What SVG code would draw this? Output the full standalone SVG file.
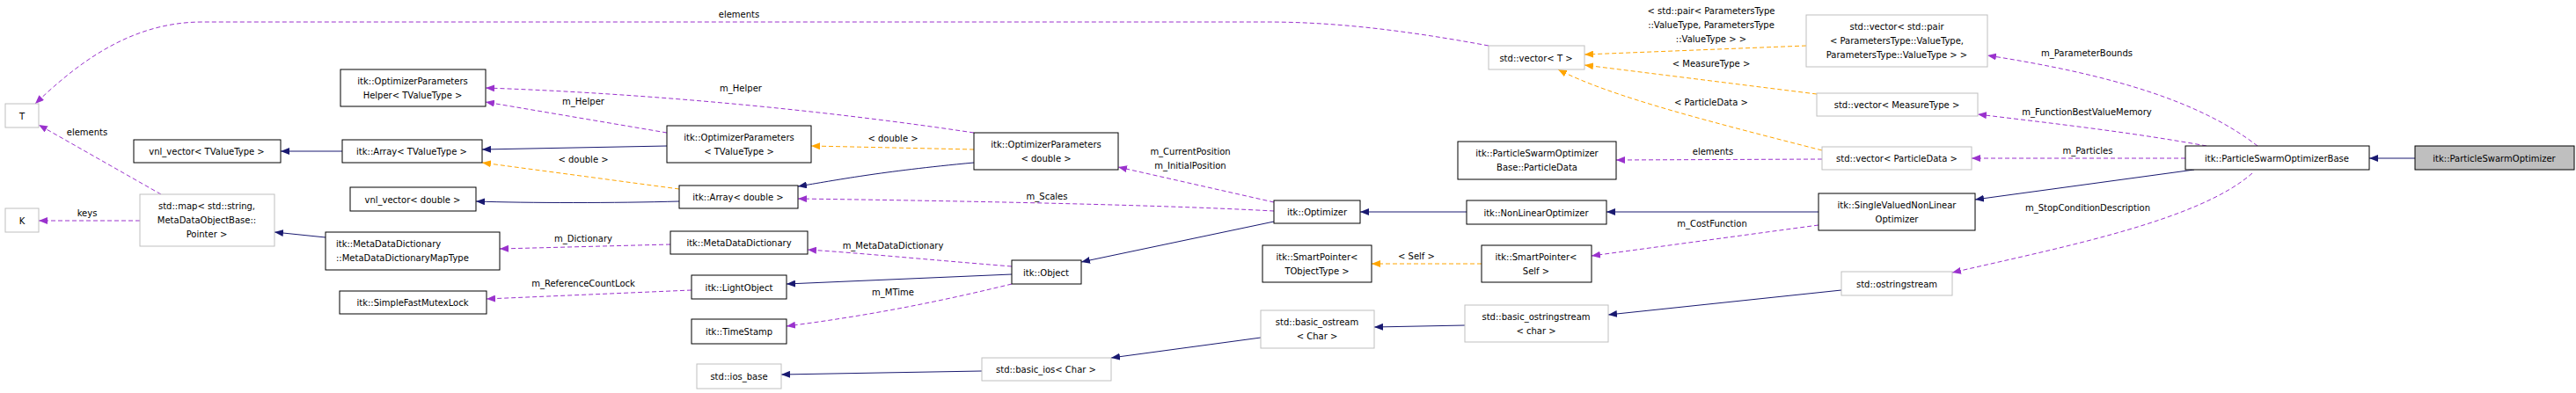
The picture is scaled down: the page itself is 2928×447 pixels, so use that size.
<svg xmlns="http://www.w3.org/2000/svg" width="2928" height="447" viewBox="0 0 2928 447">
<style>
text{font-family:"DejaVu Sans","Liberation Sans",sans-serif;font-size:10px;fill:#000}
.n rect{fill:#fff;stroke:#000;stroke-width:1}
.g rect{fill:#fff;stroke:#bfbfbf;stroke-width:1}
.n text,.g text{text-anchor:middle}
.e path{fill:none;stroke-width:1}
.b{stroke:#191970}
.p{stroke:#9a32cd;stroke-dasharray:5,3}
.o{stroke:#ffa500;stroke-dasharray:5,3}
.lbl text{text-anchor:middle}
</style>
<defs>
<marker id="ab" markerWidth="11" markerHeight="8" refX="10" refY="4" orient="auto" markerUnits="userSpaceOnUse"><path d="M0,0L10,4L0,8z" fill="#191970"/></marker>
<marker id="ap" markerWidth="11" markerHeight="8" refX="10" refY="4" orient="auto" markerUnits="userSpaceOnUse"><path d="M0,0L10,4L0,8z" fill="#9a32cd"/></marker>
<marker id="ao" markerWidth="11" markerHeight="8" refX="10" refY="4" orient="auto" markerUnits="userSpaceOnUse"><path d="M0,0L10,4L0,8z" fill="#ffa500"/></marker>
</defs>
<rect width="2928" height="447" fill="#fff"/>
<g id="connectors" class="e">
<path class="b" marker-end="url(#ab)" d="M2745,180L2693,180"/>
<path class="p" marker-end="url(#ap)" d="M2566,166C2500,115 2400,85 2259,63"/>
<path class="p" marker-end="url(#ap)" d="M2508,166C2420,150 2330,140 2248,130"/>
<path class="p" marker-end="url(#ap)" d="M2484,180L2241,180"/>
<path class="b" marker-end="url(#ab)" d="M2494,193L2245,227"/>
<path class="p" marker-end="url(#ap)" d="M2560,197C2500,250 2350,280 2219,310"/>
<path class="o" marker-end="url(#ao)" d="M2053,52L1801,62"/>
<path class="o" marker-end="url(#ao)" d="M2065,107L1801,74"/>
<path class="o" marker-end="url(#ao)" d="M2071,171C1950,140 1830,110 1771,79"/>
<path class="p" marker-end="url(#ap)" d="M2071,181L1837,182"/>
<path class="b" marker-end="url(#ab)" d="M2067,241L1826,241"/>
<path class="p" marker-end="url(#ap)" d="M2067,256L1809,291"/>
<path class="o" marker-end="url(#ao)" d="M1684,300L1559,300"/>
<path class="b" marker-end="url(#ab)" d="M2093,330L1828,358"/>
<path class="b" marker-end="url(#ab)" d="M1665,370L1562,372"/>
<path class="b" marker-end="url(#ab)" d="M1433,384L1263,407"/>
<path class="b" marker-end="url(#ab)" d="M1116,422L888,426"/>
<path class="b" marker-end="url(#ab)" d="M1667,241L1546,241"/>
<path class="p" marker-end="url(#ap)" d="M1448,230L1271,190"/>
<path class="p" marker-end="url(#ap)" d="M1448,240C1300,232 1050,228 907,226"/>
<path class="b" marker-end="url(#ab)" d="M1448,252L1229,298"/>
<path class="p" marker-end="url(#ap)" d="M1692,52C1600,35 1520,25 1440,25L230,25C150,25 90,70 40,118"/>
<path class="o" marker-end="url(#ao)" d="M1107,170L922,166"/>
<path class="p" marker-end="url(#ap)" d="M1107,151C900,120 700,105 552,100"/>
<path class="b" marker-end="url(#ab)" d="M1107,185C1000,195 950,205 907,212"/>
<path class="p" marker-end="url(#ap)" d="M758,151L552,116"/>
<path class="b" marker-end="url(#ab)" d="M758,166L548,170"/>
<path class="o" marker-end="url(#ao)" d="M772,215L548,185"/>
<path class="b" marker-end="url(#ab)" d="M772,229C700,231 600,231 541,229"/>
<path class="b" marker-end="url(#ab)" d="M389,172L319,172"/>
<path class="p" marker-end="url(#ap)" d="M1150,303C1050,295 980,288 918,284"/>
<path class="b" marker-end="url(#ab)" d="M1150,312L894,323"/>
<path class="p" marker-end="url(#ap)" d="M1150,323C1060,345 980,360 894,371"/>
<path class="p" marker-end="url(#ap)" d="M762,278L568,283"/>
<path class="p" marker-end="url(#ap)" d="M786,330L553,340"/>
<path class="b" marker-end="url(#ab)" d="M370,270L312,264"/>
<path class="p" marker-end="url(#ap)" d="M159,251L44,251"/>
<path class="p" marker-end="url(#ap)" d="M183,221L44,142"/>
</g>
<g class="lbl">
<text x="2372" y="64">m_ParameterBounds</text>
<text x="2372" y="131">m_FunctionBestValueMemory</text>
<text x="2373" y="175">m_Particles</text>
<text x="2373" y="240">m_StopConditionDescription</text>
<text x="1945" y="16">&lt; std::pair&lt; ParametersType</text>
<text x="1945" y="32">::ValueType, ParametersType</text>
<text x="1945" y="48">::ValueType &gt; &gt;</text>
<text x="1945" y="76">&lt; MeasureType &gt;</text>
<text x="1945" y="120">&lt; ParticleData &gt;</text>
<text x="1947" y="176">elements</text>
<text x="1946" y="258">m_CostFunction</text>
<text x="1610" y="295">&lt; Self &gt;</text>
<text x="1353" y="176">m_CurrentPosition</text>
<text x="1353" y="192">m_InitialPosition</text>
<text x="1190" y="227">m_Scales</text>
<text x="840" y="20">elements</text>
<text x="1015" y="161">&lt; double &gt;</text>
<text x="842" y="104">m_Helper</text>
<text x="663" y="119">m_Helper</text>
<text x="663" y="185">&lt; double &gt;</text>
<text x="1015" y="283">m_MetaDataDictionary</text>
<text x="1015" y="336">m_MTime</text>
<text x="663" y="275">m_Dictionary</text>
<text x="663" y="326">m_ReferenceCountLock</text>
<text x="99" y="246">keys</text>
<text x="99" y="154">elements</text>
</g>
<g id="pso" class="n"><rect x="2745" y="166" width="181" height="27" style="fill:#bfbfbf;stroke:#000"/><text x="2835" y="184">itk::ParticleSwarmOptimizer</text></g>
<g id="psobase" class="n"><rect x="2484" y="166" width="209" height="27"/><text x="2588" y="184">itk::ParticleSwarmOptimizerBase</text></g>
<g id="vecpair" class="g"><rect x="2053" y="17" width="206" height="59"/><text x="2156" y="34">std::vector&lt; std::pair</text><text x="2156" y="50">&lt; ParametersType::ValueType,</text><text x="2156" y="66">ParametersType::ValueType &gt; &gt;</text></g>
<g id="vecmeas" class="g"><rect x="2065" y="106" width="183" height="26"/><text x="2156" y="123">std::vector&lt; MeasureType &gt;</text></g>
<g id="vecpd" class="g"><rect x="2071" y="167" width="170" height="26"/><text x="2156" y="184">std::vector&lt; ParticleData &gt;</text></g>
<g id="svnlo" class="n"><rect x="2067" y="220" width="178" height="42"/><text x="2156" y="237">itk::SingleValuedNonLinear</text><text x="2156" y="253">Optimizer</text></g>
<g id="ostringstream" class="g"><rect x="2093" y="309" width="126" height="27"/><text x="2156" y="327">std::ostringstream</text></g>
<g id="vect" class="g"><rect x="1692" y="52" width="109" height="27"/><text x="1746" y="70">std::vector&lt; T &gt;</text></g>
<g id="psopd" class="n"><rect x="1657" y="161" width="180" height="43"/><text x="1747" y="178">itk::ParticleSwarmOptimizer</text><text x="1747" y="194">Base::ParticleData</text></g>
<g id="nlo" class="n"><rect x="1667" y="228" width="159" height="27"/><text x="1746" y="246">itk::NonLinearOptimizer</text></g>
<g id="spself" class="n"><rect x="1684" y="279" width="125" height="42"/><text x="1746" y="296">itk::SmartPointer&lt;</text><text x="1746" y="312">Self &gt;</text></g>
<g id="bostrs" class="g"><rect x="1665" y="347" width="163" height="42"/><text x="1746" y="364">std::basic_ostringstream</text><text x="1746" y="380">&lt; char &gt;</text></g>
<g id="optimizer" class="n"><rect x="1448" y="228" width="98" height="26"/><text x="1497" y="245">itk::Optimizer</text></g>
<g id="sptot" class="n"><rect x="1435" y="279" width="124" height="42"/><text x="1497" y="296">itk::SmartPointer&lt;</text><text x="1497" y="312">TObjectType &gt;</text></g>
<g id="bostream" class="g"><rect x="1433" y="353" width="129" height="43"/><text x="1497" y="370">std::basic_ostream</text><text x="1497" y="386">&lt; Char &gt;</text></g>
<g id="opd" class="n"><rect x="1107" y="151" width="164" height="42"/><text x="1189" y="168">itk::OptimizerParameters</text><text x="1189" y="184">&lt; double &gt;</text></g>
<g id="object" class="n"><rect x="1150" y="296" width="79" height="27"/><text x="1189" y="314">itk::Object</text></g>
<g id="bios" class="g"><rect x="1116" y="407" width="147" height="26"/><text x="1189" y="424">std::basic_ios&lt; Char &gt;</text></g>
<g id="optv" class="n"><rect x="758" y="143" width="164" height="42"/><text x="840" y="160">itk::OptimizerParameters</text><text x="840" y="176">&lt; TValueType &gt;</text></g>
<g id="arrd" class="n"><rect x="772" y="211" width="135" height="26"/><text x="839" y="228">itk::Array&lt; double &gt;</text></g>
<g id="mdd" class="n"><rect x="762" y="263" width="156" height="26"/><text x="840" y="280">itk::MetaDataDictionary</text></g>
<g id="light" class="n"><rect x="786" y="313" width="108" height="27"/><text x="840" y="331">itk::LightObject</text></g>
<g id="ts" class="n"><rect x="786" y="363" width="108" height="28"/><text x="840" y="381">itk::TimeStamp</text></g>
<g id="iosbase" class="g"><rect x="792" y="414" width="96" height="28"/><text x="840" y="432">std::ios_base</text></g>
<g id="helper" class="n"><rect x="387" y="79" width="165" height="42"/><text x="469" y="96">itk::OptimizerParameters</text><text x="469" y="112">Helper&lt; TValueType &gt;</text></g>
<g id="arrt" class="n"><rect x="389" y="159" width="159" height="26"/><text x="468" y="176">itk::Array&lt; TValueType &gt;</text></g>
<g id="vnld" class="n"><rect x="398" y="213" width="143" height="27"/><text x="469" y="231">vnl_vector&lt; double &gt;</text></g>
<g id="mddmap" class="n"><rect x="370" y="264" width="198" height="43"/><text x="382" y="281" style="text-anchor:start">itk::MetaDataDictionary</text><text x="382" y="297" style="text-anchor:start">::MetaDataDictionaryMapType</text></g>
<g id="mutex" class="n"><rect x="386" y="331" width="167" height="26"/><text x="469" y="348">itk::SimpleFastMutexLock</text></g>
<g id="vnlt" class="n"><rect x="152" y="159" width="167" height="26"/><text x="235" y="176">vnl_vector&lt; TValueType &gt;</text></g>
<g id="stdmap" class="g"><rect x="159" y="221" width="153" height="59"/><text x="235" y="238">std::map&lt; std::string,</text><text x="235" y="254">MetaDataObjectBase::</text><text x="235" y="270">Pointer &gt;</text></g>
<g id="T" class="g"><rect x="6" y="118" width="38" height="27"/><text x="25" y="136">T</text></g>
<g id="K" class="g"><rect x="6" y="237" width="38" height="27"/><text x="25" y="255">K</text></g>
</svg>
